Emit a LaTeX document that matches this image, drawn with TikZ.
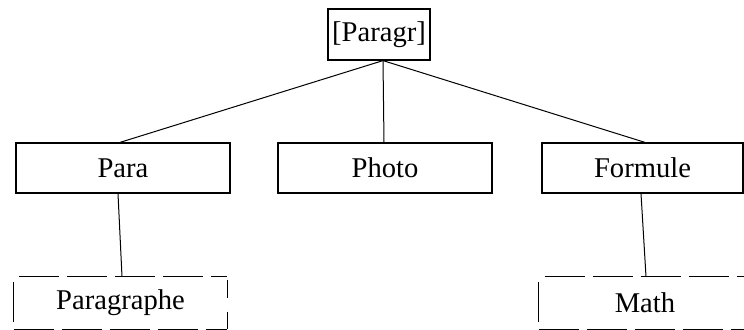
\documentclass[tikz,border=0pt]{standalone}
\usepackage{fontspec}
\setmainfont{Liberation Serif}
\usetikzlibrary{calc}
\begin{document}
\begin{tikzpicture}[x=0.5pt,y=-0.5pt,
  box/.style={rectangle,draw,line width=0.6pt,inner sep=0pt,font=\fontsize{14.3}{16}\selectfont},
  dbox/.style={rectangle,draw=none,inner sep=0pt,font=\fontsize{14.3}{16}\selectfont},
  link/.style={line width=0.5pt},
  dedge/.style={line width=0.6pt,dash pattern=on 20pt off 4pt}]
\useasboundingbox (0,0) rectangle (744,330);
\node[box,minimum width=51pt,minimum height=25.5pt] (top) at (379,34.5) {[Paragr]};
\node[box,minimum width=107pt,minimum height=25pt] (para) at (123,168) {Para};
\node[box,minimum width=107pt,minimum height=25pt] (photo) at (385,168) {Photo};
\node[box,minimum width=100.5pt,minimum height=25pt] (formule) at (642.5,168) {Formule};
\node[dbox,minimum width=106.5pt,minimum height=26pt] (paragraphe) at (120.5,303) {Paragraphe};
\node[dbox,minimum width=106pt,minimum height=26pt] (math) at (645,303) {Math};
% dashed borders
\draw[dedge,dash phase=21.5pt] (paragraphe.north west) -- (paragraphe.north east);
\draw[dedge] (paragraphe.south west) -- (paragraphe.south east);
\draw[dedge,dash phase=21.5pt] (paragraphe.north west) -- (paragraphe.south west);
\draw[line width=0.6pt,dash pattern=on 9pt off 7pt on 20pt off 1.5pt,dash phase=36pt] (paragraphe.north east) -- (paragraphe.south east);
\draw[dedge,dash phase=21pt] (math.north west) -- (math.north east);
\draw[dedge] (math.south west) -- (math.south east);
\draw[dedge,dash phase=21.5pt] (math.north west) -- (math.south west);
\draw[dedge,dash phase=21.5pt] (math.north east) -- (math.south east);
% connectors
\coordinate (apex) at ($(top.south)+(4,0)$);
\draw[link] (apex) -- ($(para.north)+(-3,0)$);
\draw[link] (apex) -- ($(photo.north)+(-1,0)$);
\draw[link] (apex) -- ($(formule.north)+(2.5,0)$);
\draw[link] ($(para.south)+(-5,0)$) -- ($(paragraphe.north)+(1.5,0)$);
\draw[link] ($(formule.south)+(-1.5,0)$) -- ($(math.north)+(1,0)$);
\end{tikzpicture}
\end{document}
